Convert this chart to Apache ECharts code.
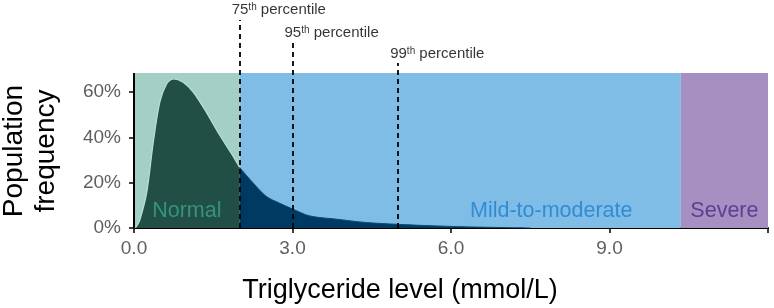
<!DOCTYPE html>
<html>
<head>
<meta charset="utf-8">
<script src="https://cdn.jsdelivr.net/npm/echarts@6/dist/echarts.min.js"></script>
<style>
  html, body { margin: 0; padding: 0; background: #fff; }
  #chart { width: 774px; height: 308px; }
</style>
</head>
<body>
<div id="chart"></div>
<script>
// triglyceride level (mmol/L) and population frequency (%)
const levels = [0, 0.05, 0.11, 0.24, 0.365, 0.49, 0.62, 0.74, 0.93, 1.12, 1.37, 1.62, 1.88, 2.0, 2.25, 2.5, 2.75, 3.0, 3.33, 3.83, 4.4, 5.0, 5.5, 6.0, 6.5, 7.0, 7.5]
const freq = [0, 0.8, 3.5, 15.5, 37.8, 55.6, 63.6, 65.8, 64.3, 59.9, 51, 41, 31.5, 26.7, 20, 14, 11, 8.4, 5.3, 3.9, 2.4, 1.6, 1.1, 0.7, 0.4, 0.2, 0]

// category bands
const bandNames = ['Normal', 'Mild-to-moderate', 'Severe']
const bandFrom = [0, 2.0, 10.35]
const bandTo = [2.0, 10.35, 12]

// percentile markers
const pctNames = ['75', '95', '99']
const pctValues = [2.0, 3.0, 5.0]

const xTicks = [0, 3, 6, 9]
const yTicks = [0, 20, 40, 60]

// layout (data units of the y axis, above the plotted region)
const yTop = 68.4
const pctLineTop = [91.7, 82, 72.8]
const pctLabelY = [96.1, 86.2, 76.8]

const font = "'Liberation Sans', Arial, sans-serif"
const bandFill = ['#a3cfc5', '#80bde6', '#a690c2']
const bandText = ['#3aa58a', '#1b7fd0', '#4a2a88']
const bandOffset = [[0, 0], [91, 0], [0, 0]]

const pts = levels.map((x, i) => [x, freq[i]])
const normalPts = pts.filter(p => p[0] <= bandTo[0])
const restPts = pts.filter(p => p[0] >= bandTo[0])

const chart = echarts.init(document.getElementById('chart'))
chart.setOption({
    animation: false,
    grid: { left: 134, right: 6, top: 4, bottom: 80 },
    xAxis: {
        type: 'value',
        min: 0,
        max: 12,
        interval: 3,
        splitLine: { show: false },
        axisLine: { lineStyle: { color: '#000', width: 2 } },
        axisTick: { length: 5, lineStyle: { color: '#000', width: 1.5 }, customValues: [0, 3, 6, 9, 12] },
        axisLabel: {
            customValues: xTicks,
            formatter: v => v.toFixed(1),
            color: '#5f5f5f',
            fontSize: 19,
            fontFamily: font,
            margin: 11
        }
    },
    yAxis: {
        type: 'value',
        min: 0,
        max: 98.8,
        splitLine: { show: false },
        axisLine: { show: false },
        axisTick: { show: true, length: 5, lineStyle: { color: '#000', width: 1.5 }, customValues: yTicks },
        axisLabel: {
            customValues: yTicks,
            formatter: v => v + '%',
            color: '#5f5f5f',
            fontSize: 19,
            fontFamily: font,
            margin: 13
        }
    },
    graphic: [
        {
            type: 'text',
            x: 30, y: 151,
            rotation: Math.PI / 2,
            style: {
                text: 'Population\nfrequency',
                fill: '#000',
                font: '28px ' + font,
                lineHeight: 32,
                align: 'center',
                verticalAlign: 'middle'
            }
        },
        {
            type: 'text',
            x: 400, y: 291,
            style: {
                text: 'Triglyceride level (mmol/L)',
                fill: '#000',
                font: '27px ' + font,
                align: 'center',
                verticalAlign: 'middle'
            }
        }
    ],
    series: [
        {
            name: 'normal',
            type: 'line',
            data: normalPts,
            smooth: 0.3,
            symbol: 'none',
            z: 3,
            lineStyle: { color: '#b3e2d5', width: 1.2 },
            areaStyle: { color: '#214e45', opacity: 1 },
            markArea: {
                silent: true,
                itemStyle: { opacity: 1 },
                data: bandNames.map((n, i) => [
                    { xAxis: bandFrom[i], yAxis: 0, itemStyle: { color: bandFill[i] } },
                    { xAxis: bandTo[i], yAxis: yTop }
                ])
            }
        },
        {
            name: 'rest',
            type: 'line',
            data: restPts,
            smooth: 0.3,
            symbol: 'none',
            z: 3,
            lineStyle: { color: '#0a4a78', width: 1 },
            areaStyle: { color: '#003a63', opacity: 1 },
            markLine: {
                silent: true,
                symbol: 'none',
                label: { show: false },
                data: [
                    [
                        { coord: [0, 0], lineStyle: { color: '#000', width: 2, type: 'solid' } },
                        { coord: [0, yTop] }
                    ]
                ].concat(pctValues.map((v, i) => [
                    { coord: [v, 0], lineStyle: { color: '#000', width: 1.8, type: [5, 4] } },
                    { coord: [v, pctLineTop[i]] }
                ]))
            }
        },
        {
            name: 'bandLabels',
            type: 'scatter',
            symbolSize: 0,
            silent: true,
            z: 6,
            data: bandNames.map((n, i) => ({
                value: [(bandFrom[i] + bandTo[i]) / 2, 0],
                name: n,
                label: { color: bandText[i], offset: bandOffset[i] }
            })),
            label: {
                show: true,
                position: 'top',
                distance: 6,
                formatter: p => p.name,
                fontSize: 21.5,
                fontFamily: font
            }
        },
        {
            name: 'pctLabels',
            type: 'scatter',
            symbolSize: 0,
            silent: true,
            z: 6,
            data: pctValues.map((v, i) => ({ value: [v, pctLabelY[i]], name: pctNames[i] })),
            label: {
                show: true,
                position: 'inside',
                align: 'left',
                offset: [-8, 0],
                formatter: p => '{a|' + p.name + '}{b|th}{a| percentile}',
                rich: {
                    a: { fontSize: 15, color: '#000', fontFamily: font },
                    b: { fontSize: 10, color: '#000', fontFamily: font, verticalAlign: 'top', lineHeight: 15 }
                }
            }
        }
    ]
})
</script>
</body>
</html>
